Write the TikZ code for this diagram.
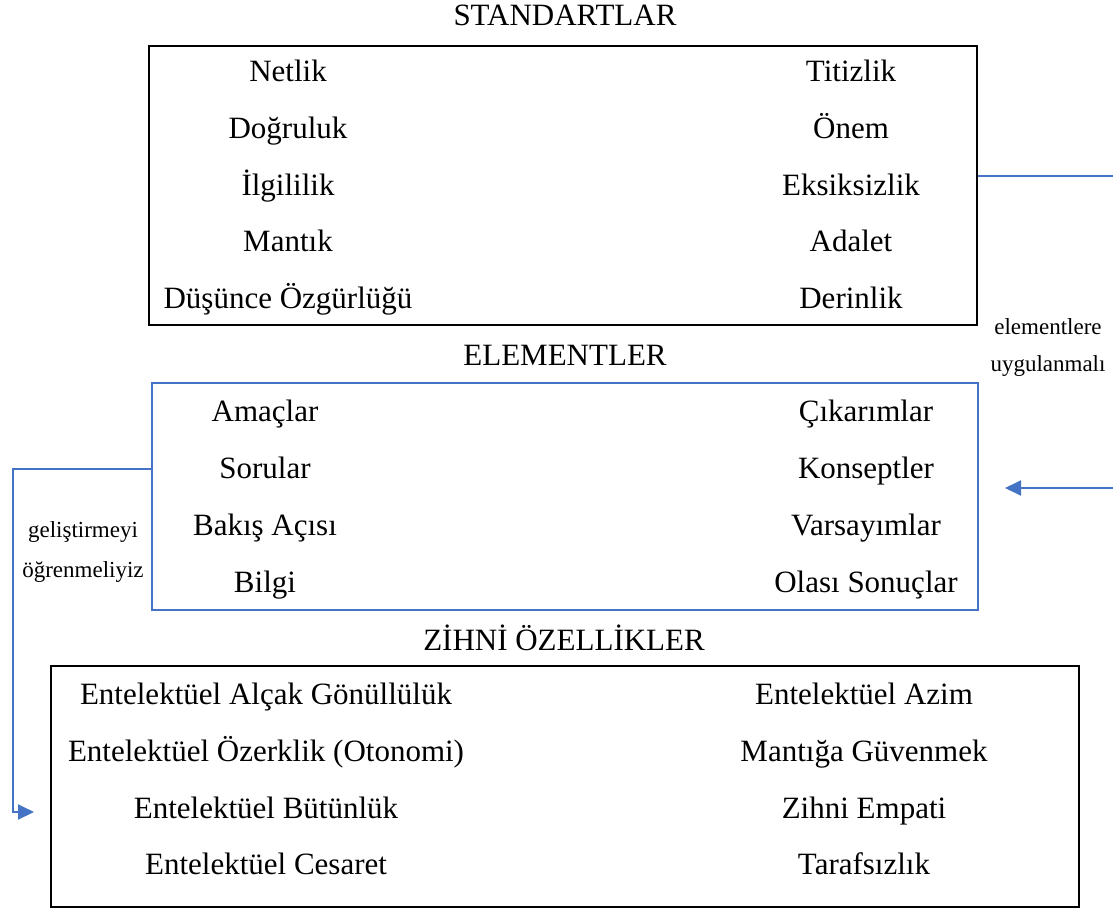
\documentclass[tikz,border=0pt]{standalone}
\usepackage{fontspec}
\setmainfont{Liberation Serif}
\usepackage{xcolor}
\usetikzlibrary{arrows.meta}
\usetikzlibrary{positioning}
\definecolor{cizgimavi}{RGB}{68,114,196}
\tikzset{kutu/.style = {draw, line width = 2pt, minimum width = #1, inner sep = 0}}
\tikzset{yazi/.style = {anchor = base, inner sep = 0, font = \fontsize{31}{37}\selectfont}}
\tikzset{notyazi/.style = {anchor = base, inner sep = 0, font = \fontsize{23}{28}\selectfont}}
\tikzset{bag/.style = {draw = cizgimavi, line width = 2pt}}
\tikzset{okbag/.style = {bag, -{Triangle[length=16pt,width=15pt]}}}

\begin{document}
\begin{tikzpicture}[x=1pt,y=-1pt]
        \useasboundingbox (0,0) rectangle (1113,910);
        % kutular
        \node [kutu=828pt, minimum height = 279pt] (standartlar) at (563,185.5) {};
        \node [kutu=826pt, minimum height = 227pt, draw = cizgimavi] (elementler) at (565,496.5) {};
        \node [kutu=1028pt, minimum height = 241pt] (zihni) at (565,786.5) {};
        % basliklar
        \node [yazi] (baslik1) at (565,25) {STANDARTLAR};
        \node [yazi] (baslik2) at (565,365) {ELEMENTLER};
        \node [yazi] (baslik3) at (564,650) {ZİHNİ ÖZELLİKLER};
        % standartlar
        \foreach \metin [count=\i] in {Netlik, Doğruluk, İlgililik, Mantık, Düşünce Özgürlüğü}
            \node [yazi] (standsol\i) at (288,25+56.7*\i) {\metin};
        \foreach \metin [count=\i] in {Titizlik, Önem, Eksiksizlik, Adalet, Derinlik}
            \node [yazi] (standsag\i) at (851,25+56.7*\i) {\metin};
        % elementler
        \foreach \metin [count=\i] in {Amaçlar, Sorular, Bakış Açısı, Bilgi}
            \node [yazi] (elemsol\i) at (265,364+57*\i) {\metin};
        \foreach \metin [count=\i] in {Çıkarımlar, Konseptler, Varsayımlar, Olası Sonuçlar}
            \node [yazi] (elemsag\i) at (866,364+57*\i) {\metin};
        % zihni ozellikler
        \foreach \metin [count=\i] in {Entelektüel Alçak Gönüllülük, Entelektüel Özerklik (Otonomi), Entelektüel Bütünlük, Entelektüel Cesaret}
            \node [yazi] (zihnisol\i) at (266,648+56.7*\i) {\metin};
        \foreach \metin [count=\i] in {Entelektüel Azim, Mantığa Güvenmek, Zihni Empati, Tarafsızlık}
            \node [yazi] (zihnisag\i) at (864,648+56.7*\i) {\metin};
        % notlar
        \node [notyazi] (not1) at (1048,334) {elementlere};
        \node [notyazi] (not2) at (1048,371) {uygulanmalı};
        \node [notyazi] (not3) at (83,537) {geliştirmeyi};
        \node [notyazi] (not4) at (83,577) {öğrenmeliyiz};
        % baglantilar
        \coordinate (sagust) at (1113,176);
        \coordinate (sagalt) at (1113,488);
        \coordinate (sagok) at (1005,488);
        \coordinate (solust) at (13,469);
        \coordinate (solok) at (34,812);
        \draw [bag] (standartlar.east |- sagust) -- (sagust);
        \draw [okbag] (sagalt) -- (sagok);
        \draw [okbag] (elementler.west |- solust) -- (solust) |- (solok);
    \end{tikzpicture}
\end{document}
